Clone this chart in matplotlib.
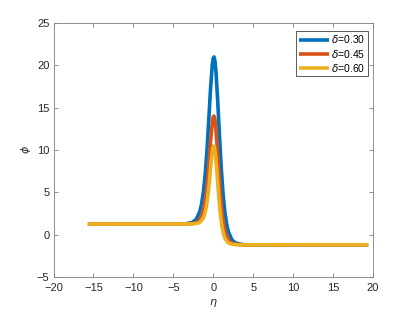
import matplotlib
matplotlib.use("Agg")
import matplotlib.pyplot as plt

# values
x_030 = [-15.7, -3.5, -2.6, -2.15, -1.7, -1.475, -1.25, -1.025, -0.8, -0.575, -0.35, -0.125,
         -0.0125, 0.1, 0.2125, 0.325, 0.55, 0.775, 1.0, 1.225, 1.45, 1.675, 1.9, 2.35, 2.8,
         3.7, 4.6, 19.4]
phi_030 = [1.25, 1.277, 1.451, 1.792, 2.689, 3.564, 4.923, 6.944, 9.765, 13.314, 17.082, 20.037,
           20.822, 20.995, 20.518, 19.437, 15.950, 11.758, 7.899, 4.866, 2.705, 1.258, 0.327,
           -0.626, -0.987, -1.171, -1.196, -1.2]

x_045 = [-15.7, -3.02, -2.24, -1.85, -1.46, -1.265, -1.07, -0.875, -0.68, -0.485, -0.29, -0.095,
         0.0025, 0.1, 0.1975, 0.295, 0.49, 0.685, 0.88, 1.075, 1.27, 1.465, 1.66, 2.05, 2.44,
         3.22, 4.0, 19.4]
phi_045 = [1.25, 1.268, 1.382, 1.606, 2.194, 2.768, 3.659, 4.983, 6.828, 9.140, 11.581, 13.462,
           13.935, 14.0, 13.631, 12.862, 10.449, 7.584, 4.962, 2.905, 1.441, 0.462, -0.168,
           -0.812, -1.056, -1.180, -1.197, -1.2]

x_060 = [-15.7, -2.62, -1.94, -1.6, -1.26, -1.09, -0.92, -0.75, -0.58, -0.41, -0.24, -0.07,
         0.015, 0.1, 0.185, 0.27, 0.44, 0.61, 0.78, 0.95, 1.12, 1.29, 1.46, 1.8, 2.14,
         2.82, 3.5, 19.4]
phi_060 = [1.25, 1.263, 1.347, 1.511, 1.943, 2.364, 3.018, 3.987, 5.337, 7.023, 8.789, 10.125,
           10.440, 10.45, 10.136, 9.525, 7.657, 5.467, 3.471, 1.909, 0.800, 0.058, -0.419,
           -0.907, -1.091, -1.185, -1.198, -1.2]

labels = [r'$\delta$=0.30', r'$\delta$=0.45', r'$\delta$=0.60']
colors = [(0, 0.447, 0.741), (0.85, 0.325, 0.098), (0.929, 0.694, 0.125)]

plt.rcParams['font.family'] = ['Liberation Sans', 'DejaVu Sans']
plt.rcParams['mathtext.fontset'] = 'dejavusans'

fig = plt.figure(figsize=(4.15, 3.12), dpi=100)
ax = fig.add_axes([53.5/415, 35/312, 319.5/415, 254/312])

for xs, ys, lbl, c in zip([x_030, x_045, x_060], [phi_030, phi_045, phi_060], labels, colors):
    ax.plot(xs, ys, color=c, lw=2.6, label=lbl, solid_capstyle='butt')

ax.set_xlim(-20, 20)
ax.set_ylim(-5, 25)
ax.set_xticks(range(-20, 21, 5))
ax.set_yticks(range(-5, 26, 5))
ax.tick_params(direction='in', length=3, width=0.6, labelsize=8, labelcolor='#262626',
               color='#7f7f7f', top=True, right=True)
ax.tick_params(axis='x', pad=4)
ax.tick_params(axis='y', pad=3)
for sp in ax.spines.values():
    sp.set_linewidth(0.6)
    sp.set_color('#7f7f7f')

ax.set_xlabel(r'$\eta$', fontsize=8, color='#262626', labelpad=3)
ax.set_ylabel(r'$\phi$', fontsize=8, color='#262626', labelpad=3)

leg = ax.legend(loc='upper right', bbox_to_anchor=(0.984, 0.969), borderaxespad=0,
                fontsize=7.5, handlelength=2.9, handletextpad=0.2, labelspacing=0.2,
                fancybox=False, framealpha=1, borderpad=0.25)
leg.get_frame().set_edgecolor('#404040')
leg.get_frame().set_linewidth(0.6)

plt.savefig('out.png', dpi=100)
